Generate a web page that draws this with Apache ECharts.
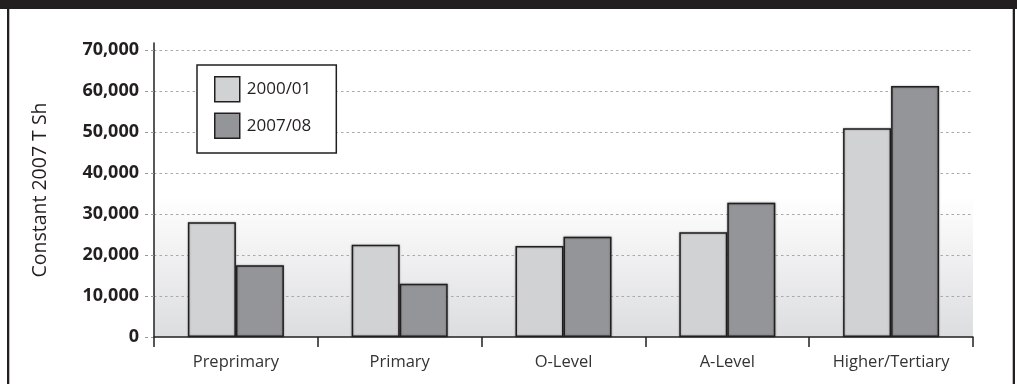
<!DOCTYPE html>
<html>
<head>
<meta charset="utf-8">
<script src="https://cdn.jsdelivr.net/npm/echarts@6/dist/echarts.min.js"></script>
<style>
  html, body { margin: 0; padding: 0; background: #ffffff; }
  #chart { width: 1017px; height: 384px; }
</style>
</head>
<body>
<div id="chart"></div>
<script>
// Spending per student by level of education, two years compared
const categories = ['Preprimary', 'Primary', 'O-Level', 'A-Level', 'Higher/Tertiary'];
const seriesNames = ['2000/01', '2007/08'];
const values2000 = [28000, 22500, 22200, 25600, 51000];
const values2007 = [17500, 13000, 24500, 32800, 61300];
const yTicks = [0, 10000, 20000, 30000, 40000, 50000, 60000, 70000];
const yAxisTitle = 'Constant 2007 T Sh';

const ink = '#231f20';
const font = '"Open Sans", "Noto Sans", sans-serif';

const chart = echarts.init(document.getElementById('chart'), null, { renderer: 'canvas' });

function barSeries(name, data, fill) {
  return {
    name: name,
    type: 'bar',
    data: data,
    barWidth: 48,
    barGap: '0%',
    itemStyle: {
      color: fill,
      borderColor: ink,
      borderWidth: 1.5,
      shadowColor: 'rgba(0,0,0,0.35)',
      shadowBlur: 2
    },
    emphasis: { disabled: true }
  };
}

chart.setOption({
  animation: false,
  backgroundColor: '#ffffff',
  textStyle: { fontFamily: font },
  grid: {
    left: 154,
    right: 44,
    top: 43,
    bottom: 47,
    show: true,
    borderWidth: 0,
    backgroundColor: {
      type: 'linear', x: 0, y: 0, x2: 0, y2: 1,
      colorStops: [
        { offset: 0, color: '#ffffff' },
        { offset: 0.52, color: '#ffffff' },
        { offset: 1, color: '#dcdddf' }
      ]
    }
  },
  legend: {
    left: 197,
    top: 65,
    orient: 'vertical',
    icon: 'rect',
    itemWidth: 25,
    itemHeight: 25,
    itemGap: 10,
    padding: [11, 25, 14, 17],
    borderColor: ink,
    borderWidth: 1.5,
    backgroundColor: '#ffffff',
    itemStyle: { borderColor: ink, borderWidth: 1.5 },
    textStyle: { fontFamily: font, fontSize: 17, color: ink, padding: [0, 0, 0, 2] },
    data: seriesNames
  },
  xAxis: {
    type: 'category',
    data: categories,
    boundaryGap: true,
    axisLine: { show: true, lineStyle: { color: ink, width: 1.5 } },
    axisTick: { show: true, length: 10, alignWithLabel: false, lineStyle: { color: ink, width: 1.5 } },
    axisLabel: { fontFamily: font, fontSize: 16.5, color: '#333333', margin: 17 },
    splitLine: { show: false }
  },
  yAxis: {
    type: 'value',
    min: 0,
    max: 71800,
    interval: 10000,
    name: yAxisTitle,
    nameLocation: 'middle',
    nameGap: 104,
    nameRotate: 90,
    nameTextStyle: { fontFamily: font, fontSize: 19.5, color: ink },
    axisLine: { show: true, lineStyle: { color: ink, width: 1.5 } },
    axisTick: {
      show: true,
      length: 9,
      customValues: yTicks,
      lineStyle: { color: '#999999', width: 1, type: [3, 3] }
    },
    axisLabel: {
      fontFamily: font,
      fontSize: 18,
      fontWeight: 'bold',
      color: ink,
      margin: 15,
      customValues: yTicks,
      formatter: function (v) { return v.toLocaleString('en-US'); }
    },
    splitLine: {
      show: true,
      showMinLine: false,
      lineStyle: { color: '#a7a9ac', width: 1, type: [2.5, 3] }
    }
  },
  series: [
    barSeries(seriesNames[0], values2000, '#d1d2d4'),
    barSeries(seriesNames[1], values2007, '#939598')
  ],
  graphic: [
    // frame: heavy top band and thin side rules
    { type: 'rect', shape: { x: 0, y: 0, width: 1017, height: 9 }, style: { fill: ink }, silent: true },
    { type: 'rect', shape: { x: 7, y: 9, width: 2.3, height: 375 }, style: { fill: ink }, silent: true },
    { type: 'rect', shape: { x: 1012.7, y: 9, width: 2.3, height: 375 }, style: { fill: ink }, silent: true }
  ]
});
</script>
</body>
</html>
